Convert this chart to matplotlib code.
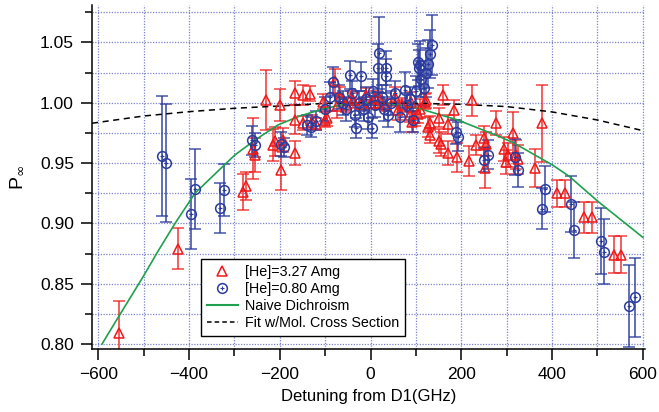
import numpy as np
import matplotlib
matplotlib.use("Agg")
import matplotlib.pyplot as plt
from matplotlib.ticker import MultipleLocator
from matplotlib.lines import Line2D

plt.rcParams['font.family'] = ['Liberation Sans', 'DejaVu Sans']

# [He]=3.27 Amg : detuning (GHz), P, error
red_x = [-554, -425, -281, -275, -259, -255, -230, -215, -210, -200, -197, -193,
         -167, -167, -167, -149, -149, -134, -130, -120, -105, -101, -95, -79,
         -75, -68, -55, -42, -39, -20, -10, 0, 9, 16, 20, 35, 53, 60, 70, 86,
         90, 92, 97, 104, 110, 119, 122, 126, 130, 130, 152, 152, 155, 159, 170,
         170, 183, 191, 216, 223, 232, 249, 252, 254, 276, 295, 299, 302, 315,
         320, 324, 362, 379, 412, 428, 471, 488, 537, 552]
red_y = [0.809, 0.879, 0.926, 0.931, 0.962, 0.957, 1.002, 0.965, 0.968, 0.998, 0.944, 0.969,
         1.008, 0.986, 0.958, 1.0065, 0.983, 1.0075, 0.984, 0.982, 1.001, 0.986, 0.987, 1.018,
         0.997, 1.005, 0.998, 1.004, 1.002, 0.999, 1.0065, 1.000, 1.004, 1.000, 1.002, 0.998, 1.005, 0.994, 0.998, 0.990,
         1.001, 0.984, 0.987, 0.991, 0.995, 1.001, 1.002, 0.980, 0.983, 0.973, 0.9875, 0.968, 0.966, 1.0065, 0.982,
         0.958, 0.994, 0.955, 0.952, 1.002, 0.965, 0.9705, 0.946, 0.966, 0.983, 0.962, 0.951, 0.957, 0.975,
         0.957, 0.953, 0.946, 0.983, 0.925, 0.925, 0.905, 0.905, 0.874, 0.874]
red_err = [0.027, 0.017, 0.015, 0.012, 0.025, 0.014, 0.025, 0.013, 0.012, 0.013, 0.016, 0.010,
           0.010, 0.012, 0.010, 0.008, 0.006, 0.006, 0.006, 0.005, 0.006, 0.006, 0.006, 0.010,
           0.010, 0.008, 0.006, 0.006, 0.006, 0.005, 0.006, 0.005, 0.006, 0.005, 0.006, 0.005, 0.008, 0.008, 0.006, 0.006,
           0.008, 0.008, 0.006, 0.008, 0.008, 0.006, 0.006, 0.008, 0.006, 0.006, 0.008, 0.010, 0.010, 0.008, 0.008,
           0.010, 0.008, 0.012, 0.0125, 0.013, 0.008, 0.010, 0.017, 0.010, 0.010, 0.010, 0.010, 0.010, 0.017,
           0.012, 0.012, 0.016, 0.032, 0.011, 0.011, 0.013, 0.013, 0.0155, 0.0155]

# [He]=0.80 Amg
blue_x = [-460, -450, -395, -386, -331, -322, -262, -255, -197, -190, -141, -132, -120,
          -100, -90, -83, -70, -60, -55, -46, -40, -35, -31, -25, -20, -15, -10, -5, 4,
          5, 10, 16, 18, 25, 30, 34, 35, 38, 45, 55, 64, 75, 80, 86, 93, 100, 104, 106,
          108, 112, 118, 122, 126, 130, 136, 188, 192, 251, 258, 318, 324, 377, 384,
          441, 449, 507, 515, 570, 582]
blue_y = [0.956, 0.950, 0.908, 0.9285, 0.9125, 0.928, 0.969, 0.965, 0.966, 0.963, 0.9816, 0.980, 0.985,
          0.995, 1.005, 1.0175, 1.005, 1.000, 0.995, 1.023, 1.008, 0.990, 0.979, 1.000, 1.022, 0.995, 1.003, 0.988, 0.979,
          1.010, 0.998, 1.029, 1.041, 1.005, 0.995, 1.022, 1.029, 0.990, 1.000, 1.008, 0.988, 1.0106, 0.998, 1.003, 0.986, 1.010, 1.034, 1.029,
          1.031, 1.020, 1.012, 1.025, 1.032, 1.0405, 1.048, 0.976, 0.972, 0.9526, 0.957, 0.955, 0.944, 0.912, 0.9285,
          0.916, 0.8945, 0.8854, 0.8766, 0.8315, 0.8387]
blue_err = [0.0495, 0.049, 0.029, 0.033, 0.0206, 0.0215, 0.012, 0.010, 0.010, 0.008, 0.008, 0.008, 0.008,
            0.010, 0.012, 0.012, 0.010, 0.010, 0.010, 0.012, 0.010, 0.010, 0.008, 0.010, 0.012, 0.010, 0.010, 0.010, 0.008,
            0.010, 0.010, 0.020, 0.030, 0.010, 0.010, 0.014, 0.014, 0.010, 0.010, 0.010, 0.012, 0.015, 0.010, 0.010, 0.010, 0.012, 0.015, 0.015,
            0.020, 0.015, 0.015, 0.020, 0.020, 0.020, 0.025, 0.010, 0.012, 0.010, 0.012, 0.015, 0.014, 0.017, 0.019,
            0.023, 0.023, 0.027, 0.027, 0.034, 0.033]

# Naive dichroism curve
naive_x = [-592, -550, -501, -470, -431, -387, -340, -299, -255, -204, -156, -112, -68, -13,
           37, 100, 192, 284, 317, 401, 438, 502, 600]
naive_y = [0.800, 0.826, 0.856, 0.876, 0.900, 0.925, 0.942, 0.9567, 0.969, 0.9816, 0.989, 0.994, 0.998, 1.000,
           0.9996, 0.996, 0.9857, 0.972, 0.9664, 0.9484, 0.939, 0.918, 0.8885]

# Fit w/ molecular cross section
fit_x = [-614, -500, -400, -300, -200, -100, 0, 100, 200, 300, 400, 500, 600]
fit_y = [0.983, 0.989, 0.9926, 0.9954, 0.9973, 0.9995, 1.0, 0.9995, 0.9987, 0.9968, 0.9924, 0.9857, 0.9769]

red = '#f01818'
blue = '#2b3c9e'
green = '#1fa04e'

fig = plt.figure(figsize=(6.59, 4.12), dpi=100)
ax = fig.add_axes([92/659, 63/412, 553/659, 344/412])

ax.plot(naive_x, naive_y, color=green, lw=1.2, zorder=3)
ax.plot(fit_x, fit_y, color='black', lw=1.1, ls=(0, (4, 3)), zorder=3)

ax.errorbar(red_x, red_y, yerr=red_err, fmt='none', ecolor=red, elinewidth=1.3,
            capsize=4.5, capthick=1.2, alpha=0.75, zorder=2)
ax.plot(red_x, red_y, ls='none', marker='^', ms=7.5, mfc='none', mec=red, mew=1.1, zorder=4)

ax.errorbar(blue_x, blue_y, yerr=blue_err, fmt='none', ecolor=blue, elinewidth=1.3,
            capsize=4.5, capthick=1.2, alpha=0.8, zorder=2)
ax.plot(blue_x, blue_y, ls='none', marker='o', ms=7, mfc='none', mec=blue, mew=1.1, zorder=4)
ax.plot(blue_x, blue_y, ls='none', marker='+', ms=3, mec=blue, mew=0.8, zorder=4)

ax.set_xlim(-614, 605)
ax.set_ylim(0.7959, 1.081)
ax.xaxis.set_major_locator(MultipleLocator(200))
ax.xaxis.set_minor_locator(MultipleLocator(100))
ax.yaxis.set_major_locator(MultipleLocator(0.05))
ax.yaxis.set_minor_locator(MultipleLocator(0.025))
ax.yaxis.set_major_formatter(matplotlib.ticker.FormatStrFormatter('%.2f'))

ax.grid(True, which='both', color='#5a66c0', ls=(0, (1, 1.2)), lw=0.9, alpha=0.8)
ax.set_axisbelow(True)
for s in ['top', 'right']:
    ax.spines[s].set_visible(False)
for s in ['left', 'bottom']:
    ax.spines[s].set_linewidth(1.1)
ax.tick_params(which='major', direction='out', length=8, width=1.1, labelsize=12.5, pad=5)
ax.tick_params(which='minor', direction='out', length=5, width=1.1)

ax.set_xlabel('Detuning from D1(GHz)', fontsize=12, labelpad=5)
ax.set_ylabel('P$_{\\infty}$', fontsize=14, labelpad=10)

h_red = Line2D([], [], ls='none', marker='^', ms=7.5, mfc='none', mec=red, mew=1.1)
h_blue = (Line2D([], [], ls='none', marker='o', ms=7, mfc='none', mec=blue, mew=1.1),
          Line2D([], [], ls='none', marker='+', ms=3, mec=blue, mew=0.8))
h_green = Line2D([], [], color=green, lw=1.5)
h_fit = Line2D([], [], color='black', lw=1.1, ls=(0, (3, 2)))
leg = ax.legend([h_red, h_blue, h_green, h_fit],
                ['[He]=3.27 Amg', '[He]=0.80 Amg', 'Naive Dichroism', 'Fit w/Mol. Cross Section'],
                loc='lower left', bbox_to_anchor=(0.197, 0.038), borderaxespad=0,
                fontsize=10.3, frameon=True, fancybox=False, handlelength=2.2,
                labelspacing=0.22, borderpad=0.4, handletextpad=0.5)
leg.get_frame().set_edgecolor('black')
leg.get_frame().set_linewidth(1.0)
leg.get_frame().set_alpha(1)

fig.savefig('out.png', dpi=100)
